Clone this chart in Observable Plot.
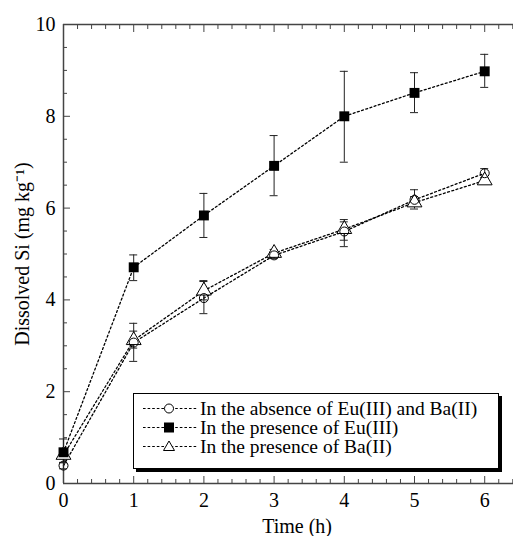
<!DOCTYPE html>
<html>
<head>
<meta charset="utf-8">
<script src="https://cdn.jsdelivr.net/npm/d3@7"></script>
<script src="https://cdn.jsdelivr.net/npm/@observablehq/plot@0.6"></script>
<style>
  html, body { margin: 0; padding: 0; background: #fff; }
  #wrap { position: relative; width: 513px; height: 536px; overflow: hidden; font-family: "Liberation Serif", "Times New Roman", serif; }
  #legend { position: absolute; left: 133px; top: 393px; width: 364px; height: 74px; background: #fff; border: 1.5px solid #000; box-shadow: 3px 3px 0 #000; font-size: 19.5px; }
  .row { position: absolute; left: 8px; height: 19px; line-height: 19px; display: flex; align-items: center; white-space: nowrap; }
  .row svg { margin-right: 1px; flex: none; }
</style>
</head>
<body>
<div id="wrap"></div>
<script>
const times = [0, 1, 2, 3, 4, 5, 6];

const absence   = [0.39, 3.07, 4.04, 4.97, 5.49, 6.18, 6.76];
const absenceLo = [0.32, 2.66, 3.70, 4.90, 5.16, 5.98, 6.66];
const absenceHi = [0.46, 3.49, 4.40, 5.05, 5.75, 6.40, 6.86];

const eu   = [0.68, 4.71, 5.84, 6.92, 8.00, 8.51, 8.98];
const euLo = [0.45, 4.42, 5.36, 6.27, 7.00, 8.08, 8.63];
const euHi = [0.97, 4.98, 6.32, 7.58, 8.98, 8.95, 9.35];

const ba   = [0.62, 3.12, 4.20, 5.02, 5.54, 6.12, 6.60];
const baLo = [0.55, 2.95, 4.00, 4.95, 5.30, 6.05, 6.54];
const baHi = [0.70, 3.32, 4.42, 5.10, 5.70, 6.25, 6.66];

const seriesNames = ["In the absence of Eu(III) and Ba(II)", "In the presence of Eu(III)", "In the presence of Ba(II)"];
const xMajor = [0, 1, 2, 3, 4, 5, 6];
const yMajor = [0, 2, 4, 6, 8, 10];

const build = (vals, lo, hi, name) => times.map((t, i) => ({t, v: vals[i], lo: lo[i], hi: hi[i], name}));
const dAbs = build(absence, absenceLo, absenceHi, seriesNames[0]);
const dEu = build(eu, euLo, euHi, seriesNames[1]);
const dBa = build(ba, baLo, baHi, seriesNames[2]);
const all = [...dAbs, ...dEu, ...dBa];

const xMinor = d3.range(0, 6.41, 0.2).map(v => +v.toFixed(2)).filter(v => !xMajor.includes(v));
const yMinor = d3.range(0, 10.01, 0.5).filter(v => !yMajor.includes(v));

const dash = "2,2.4";
const frameColor = "#444";

const plot = Plot.plot({
  width: 513,
  height: 536,
  marginLeft: 63,
  marginRight: 0,
  marginTop: 24,
  marginBottom: 53,
  style: {fontFamily: "'Liberation Serif', 'Times New Roman', serif", fontSize: "20px", color: "#000", background: "#fff"},
  x: {domain: [0, 6.41]},
  y: {domain: [0, 10]},
  marks: [
    Plot.ruleY([0], {stroke: frameColor, strokeWidth: 1.5}),
    Plot.ruleY([10], {stroke: frameColor, strokeWidth: 1.5}),
    Plot.ruleX([0], {stroke: frameColor, strokeWidth: 1.5}),
    Plot.axisX(xMajor, {tickSize: 0, tickPadding: 9, label: null, tickFormat: d => d, fontSize: 20}),
    Plot.axisY(yMajor, {tickSize: 0, tickPadding: 8, label: null, tickFormat: d => d, fontSize: 20}),
    Plot.axisX(xMajor, {tickSize: -7, text: null, label: null, stroke: frameColor}),
    Plot.axisX(xMinor, {tickSize: -4, text: null, label: null, stroke: frameColor}),
    Plot.axisX(xMajor, {anchor: "top", tickSize: -7, text: null, label: null, stroke: frameColor}),
    Plot.axisX(xMinor, {anchor: "top", tickSize: -4, text: null, label: null, stroke: frameColor}),
    Plot.axisY(yMajor, {tickSize: -7, text: null, label: null, stroke: frameColor}),
    Plot.axisY(yMinor, {tickSize: -4, text: null, label: null, stroke: frameColor}),
    Plot.text(["Time (h)"], {x: 3, frameAnchor: "bottom", textAnchor: "middle", lineAnchor: "middle", dx: 23, dy: 43, fontSize: 20}),
    Plot.text(["Dissolved Si (mg kg⁻¹)"], {y: 5, frameAnchor: "left", textAnchor: "middle", lineAnchor: "middle", dx: -41, rotate: -90, fontSize: 20}),
    Plot.line(all, {x: "t", y: "v", z: "name", stroke: "#000", strokeWidth: 1.3, strokeDasharray: dash}),
    Plot.ruleX(all, {x: "t", y1: "lo", y2: "hi", stroke: "#222", strokeWidth: 1}),
    Plot.ruleY(all, {y: "hi", x1: "t", x2: "t", insetLeft: -4, insetRight: -4, stroke: "#222", strokeWidth: 1}),
    Plot.ruleY(all, {y: "lo", x1: "t", x2: "t", insetLeft: -4, insetRight: -4, stroke: "#222", strokeWidth: 1}),
    Plot.dot(dBa, {x: "t", y: "v", symbol: "triangle", r: 5.5, stroke: "#000", fill: "#fff", strokeWidth: 1}),
    Plot.dot(dAbs, {x: "t", y: "v", symbol: "circle", r: 4.5, stroke: "#000", fill: "none", strokeWidth: 1}),
    Plot.dot(dEu, {x: "t", y: "v", symbol: "square", r: 5.6, fill: "#000", stroke: "none"})
  ]
});

const wrap = document.getElementById("wrap");
wrap.appendChild(plot);

const legend = document.createElement("div");
legend.id = "legend";
const markerSvg = {
  circle: '<circle cx="27" cy="9.5" r="4.5" fill="#fff" stroke="#000" stroke-width="1"/>',
  square: '<rect x="22" y="4.5" width="10" height="10" fill="#000"/>',
  triangle: '<path d="M27,4 L32.5,13.5 L21.5,13.5 Z" fill="#fff" stroke="#000" stroke-width="1"/>'
};
const kinds = ["circle", "square", "triangle"];
const tops = [5, 24, 43];
seriesNames.forEach((name, i) => {
  const row = document.createElement("div");
  row.className = "row";
  row.style.top = tops[i] + "px";
  row.innerHTML = `<svg width="57" height="19"><line x1="1" y1="9.5" x2="56" y2="9.5" stroke="#000" stroke-width="1.2" stroke-dasharray="2.6,2"/>${markerSvg[kinds[i]]}</svg><span>${name}</span>`;
  legend.appendChild(row);
});
wrap.appendChild(legend);
</script>
</body>
</html>
